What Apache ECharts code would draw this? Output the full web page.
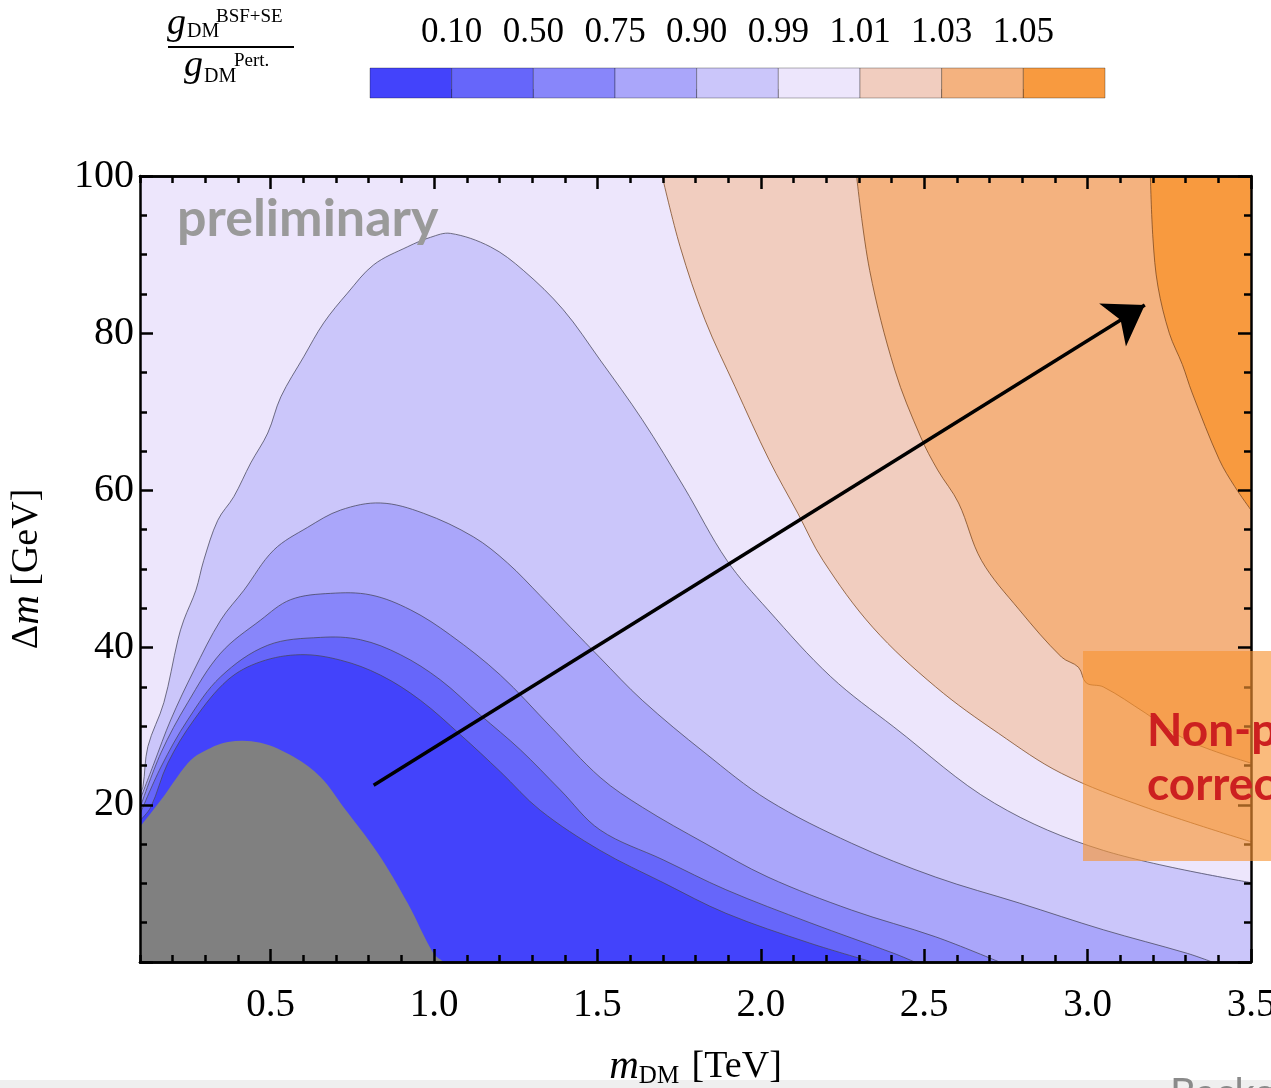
<!DOCTYPE html>
<html lang="en">
<head>
  <meta charset="utf-8">
</head>
<body style="margin: 0; background: #fff">
  <div id="container" style="width: 1271px; height: 1088px"></div>

  <script type="text/javascript" src="https://fastly.jsdelivr.net/npm/echarts@6/dist/echarts.min.js"></script>

  <script type="text/javascript">
    // colour bar: level boundaries and the nine band colours
    var levelLabels = ['0.10', '0.50', '0.75', '0.90', '0.99', '1.01', '1.03', '1.05'];
    var levelColors = ['#4343fb', '#6666fa', '#8886fa', '#aaa6fa', '#cbc6fa', '#ede6fc', '#f1cdbf', '#f4b27f', '#f89a3f'];

    var xMajor = [0.5, 1.0, 1.5, 2.0, 2.5, 3.0, 3.5];

    // contour lines, [m_DM (TeV), delta m (GeV)]
    var c099 = [[0.1, 21.5], [0.109, 22.3], [0.124, 27.4], [0.173, 33.0], [0.216, 41.0], [0.234, 43.5],
      [0.271, 47.3], [0.295, 51.1], [0.338, 56.2], [0.387, 59.2], [0.439, 63.5], [0.491, 67.3],
      [0.531, 71.9], [0.601, 77.0], [0.662, 81.3], [0.735, 85.1], [0.815, 88.7], [0.919, 91.0],
      [0.989, 92.2], [1.05, 92.7], [1.172, 91.0], [1.273, 88.0], [1.395, 83.0], [1.508, 76.6],
      [1.637, 69.0], [1.765, 60.4], [1.896, 51.1], [2.022, 44.8], [2.214, 36.3], [2.407, 29.9],
      [2.715, 20.2], [3.048, 14.2], [3.5, 10.1]];
    var c090 = [[0.1, 20.6], [0.143, 25.3], [0.194, 30.8], [0.265, 37.1], [0.347, 43.5], [0.418, 47.3],
      [0.509, 52.4], [0.613, 55.3], [0.714, 57.5], [0.836, 58.4], [0.967, 57.1], [1.12, 54.1],
      [1.224, 50.8], [1.325, 46.6], [1.417, 42.6], [1.508, 38.7], [1.637, 33.3], [1.829, 26.6],
      [2.022, 20.6], [2.278, 15.1], [2.535, 10.8], [2.791, 7.5], [3.048, 4.1], [3.305, 1.1], [3.381, 0]];
    var c075 = [[0.1, 19.6], [0.164, 26.6], [0.246, 33.0], [0.347, 39.3], [0.469, 43.5], [0.561, 46.1],
      [0.683, 46.9], [0.806, 46.7], [0.928, 44.8], [1.05, 41.6], [1.203, 36.5], [1.355, 30.0],
      [1.508, 23.5], [1.637, 19.7], [1.829, 15.1], [2.022, 10.8], [2.278, 6.6], [2.535, 3.2],
      [2.73, 0]];
    var c050 = [[0.1, 18.8], [0.164, 24.8], [0.246, 30.8], [0.347, 36.3], [0.491, 40.3], [0.653, 41.3],
      [0.775, 41.0], [0.897, 39.1], [1.019, 35.9], [1.142, 31.4], [1.264, 27.0], [1.386, 21.9],
      [1.508, 16.8], [1.701, 13.0], [1.893, 9.2], [2.15, 5.0], [2.407, 1.1], [2.471, 0]];
    var c010 = [[0.1, 18.0], [0.133, 19.7], [0.185, 25.3], [0.265, 30.8], [0.369, 35.9], [0.469, 38.2],
      [0.592, 39.1], [0.714, 38.4], [0.836, 36.5], [0.958, 33.3], [1.081, 28.9], [1.203, 24.2],
      [1.325, 19.3], [1.508, 14.2], [1.701, 10.1], [1.893, 6.2], [2.15, 2.4], [2.342, 0]];
    var excluded = [[0.1, 17.2], [0.164, 20.6], [0.246, 25.3], [0.286, 26.6], [0.369, 28.0], [0.469, 27.9],
      [0.57, 26.1], [0.653, 23.5], [0.723, 19.7], [0.827, 13.9], [0.919, 7.5], [0.998, 1.1], [1.029, 0]];
    var c101 = [[1.698, 100], [1.753, 91.0], [1.829, 81.7], [1.921, 73.2], [2.025, 63.9], [2.113, 57.1],
      [2.19, 51.1], [2.342, 42.6], [2.535, 35.0], [2.727, 29.1], [2.92, 24.0], [3.176, 19.7], [3.5, 15.3]];
    var c103 = [[2.293, 100], [2.333, 88.0], [2.41, 75.3], [2.489, 66.8], [2.541, 62.6], [2.605, 58.4],
      [2.675, 51.1], [2.791, 44.8], [2.92, 38.8], [2.972, 37.5], [2.996, 35.5], [3.048, 35.0],
      [3.176, 31.7], [3.305, 28.2], [3.5, 25.3]];
    var c105 = [[3.192, 100], [3.2, 92], [3.215, 86], [3.25, 80], [3.29, 76], [3.32, 72.4],
      [3.403, 63.9], [3.45, 60.5], [3.5, 57.5]];

    var arrowFrom = [0.815, 22.5];
    var arrowTo = [3.175, 83.6];

    var blueLine = 'rgba(70, 70, 90, 0.75)';
    var orangeLine = 'rgba(120, 70, 30, 0.75)';

    // each band: its contour line, closed through points well outside the plot
    var regions = [
      { curve: c099, fill: levelColors[4], line: blueLine, close: [[5, -40], [-1, -40]] },
      { curve: c090, fill: levelColors[3], line: blueLine, close: [[-1, -40]] },
      { curve: c075, fill: levelColors[2], line: blueLine, close: [[-1, -40]] },
      { curve: c050, fill: levelColors[1], line: blueLine, close: [[-1, -40]] },
      { curve: c010, fill: levelColors[0], line: blueLine, close: [[-1, -40]] },
      { curve: excluded, fill: '#808080', line: null, close: [[-1, -40]] },
      { curve: c101, fill: levelColors[6], line: orangeLine, close: [[5, 140]] },
      { curve: c103, fill: levelColors[7], line: orangeLine, close: [[5, 140]] },
      { curve: c105, fill: levelColors[8], line: orangeLine, close: [[5, 140]] }
    ];

    // continue the line a little past both ends so the smoothed fill leaves the frame cleanly
    function ringOf(r) {
      var c = r.curve;
      var n = c.length;
      var pre = [c[0][0] - 3 * (c[1][0] - c[0][0]), c[0][1] - 3 * (c[1][1] - c[0][1])];
      var post = [c[n - 1][0] + 3 * (c[n - 1][0] - c[n - 2][0]), c[n - 1][1] + 3 * (c[n - 1][1] - c[n - 2][1])];
      return [pre].concat(c, [post], r.close);
    }

    var dom = document.getElementById('container');
    var myChart = echarts.init(dom, null, { renderer: 'canvas' });

    var serif = 'Liberation Serif';
    var tickStyle = { color: '#000', width: 2.5 };
    var barIdx = levelLabels.map(function (s, i) { return i + 1; });

    function plotX(pos, major, extra) {
      var ax = {
        gridIndex: 0,
        type: 'value',
        position: pos,
        min: 0.1,
        max: 3.5,
        z: 10,
        axisLine: { show: true, onZero: false, lineStyle: { color: '#000', width: 2.5 } },
        axisTick: { inside: true, length: major ? 13 : 7, lineStyle: tickStyle },
        axisLabel: { show: false },
        splitLine: { show: false }
      };
      if (major) {
        ax.axisTick.customValues = xMajor;
      } else {
        ax.interval = 0.1;
      }
      return Object.assign(ax, extra || {});
    }

    function plotY(pos, extra) {
      return Object.assign({
        gridIndex: 0,
        type: 'value',
        position: pos,
        min: 0,
        max: 100,
        interval: 20,
        z: 10,
        axisLine: { show: true, onZero: false, lineStyle: { color: '#000', width: 2.5 } },
        axisTick: { inside: true, length: 13, lineStyle: tickStyle },
        minorTick: { show: true, splitNumber: 4, length: 7, lineStyle: tickStyle },
        axisLabel: { show: false },
        splitLine: { show: false }
      }, extra || {});
    }

    var option = {
      animation: false,
      grid: [
        { left: 140, right: 20, top: 176, bottom: 126, show: true, backgroundColor: levelColors[5], borderWidth: 0, outerBoundsMode: 'none' },
        { left: 370, width: 735, top: 68, height: 30, show: false, outerBoundsMode: 'none' }
      ],
      xAxis: [
        plotX('bottom', false),
        plotX('bottom', true, {
          axisLabel: {
            show: true, customValues: xMajor, margin: 24,
            fontFamily: serif, fontSize: 39, color: '#000',
            formatter: function (v) { return v.toFixed(1); }
          },
          name: '{i|m}{s|DM} [TeV]',
          nameLocation: 'middle',
          nameGap: 84,
          nameTextStyle: {
            fontFamily: serif, fontSize: 38, color: '#000',
            rich: {
              i: { fontFamily: serif, fontStyle: 'italic', fontSize: 41, color: '#000' },
              s: { fontFamily: serif, fontSize: 25, color: '#000', padding: [18, 3, 0, 0] }
            }
          }
        }),
        plotX('top', false),
        plotX('top', true),
        {
          gridIndex: 1, type: 'value', position: 'top', min: 0, max: 9,
          axisLine: { show: false },
          axisTick: { show: true, customValues: barIdx, length: 9, lineStyle: { color: '#555', width: 1 } },
          axisLabel: {
            customValues: barIdx, margin: 18, fontFamily: serif, fontSize: 35, color: '#000',
            formatter: function (v) { return levelLabels[v - 1] || ''; }
          },
          splitLine: { show: false }
        }
      ],
      yAxis: [
        plotY('left', {
          axisLabel: {
            show: true, margin: 6, fontFamily: serif, fontSize: 40, color: '#000', padding: [14, 0, 0, 0],
            formatter: function (v) { return v === 0 ? '' : String(v); }
          },
          name: '\u0394{i|m} [GeV]',
          nameLocation: 'middle',
          nameGap: 92,
          nameRotate: 90,
          nameTextStyle: {
            fontFamily: serif, fontSize: 38, color: '#000',
            rich: { i: { fontFamily: serif, fontStyle: 'italic', fontSize: 41, color: '#000' } }
          }
        }),
        plotY('right'),
        { gridIndex: 1, type: 'value', min: 0, max: 1, show: false }
      ],
      graphic: {
        elements: [
          // ratio label
          { type: 'text', x: 167, y: 24, z: 20, style: { text: 'g', font: 'italic 38px "Liberation Serif"', fill: '#000', verticalAlign: 'middle' } },
          { type: 'text', x: 187, y: 32, z: 20, style: { text: 'DM', font: '20px "Liberation Serif"', fill: '#000', verticalAlign: 'middle' } },
          { type: 'text', x: 216, y: 17, z: 20, style: { text: 'BSF+SE', font: '19px "Liberation Serif"', fill: '#000', verticalAlign: 'middle' } },
          { type: 'line', z: 20, shape: { x1: 168, y1: 47, x2: 294, y2: 47 }, style: { stroke: '#000', lineWidth: 2 } },
          { type: 'text', x: 184, y: 66, z: 20, style: { text: 'g', font: 'italic 38px "Liberation Serif"', fill: '#000', verticalAlign: 'middle' } },
          { type: 'text', x: 204, y: 77, z: 20, style: { text: 'DM', font: '20px "Liberation Serif"', fill: '#000', verticalAlign: 'middle' } },
          { type: 'text', x: 234, y: 61, z: 20, style: { text: 'Pert.', font: '19px "Liberation Serif"', fill: '#000', verticalAlign: 'middle' } },
          // watermark
          { type: 'text', x: 177, y: 219, z: 20, style: { text: 'preliminary', font: 'bold 52px Lato', fill: '#9a9a9a', verticalAlign: 'middle' } },
          // overlay box
          { type: 'rect', z: 30, shape: { x: 1083, y: 651, width: 200, height: 210 }, style: { fill: 'rgba(247, 148, 52, 0.64)' } },
          { type: 'text', x: 1147, y: 731, z: 31, style: { text: 'Non-perturbative', font: 'bold 46px Lato', fill: '#cc2020', verticalAlign: 'middle' } },
          { type: 'text', x: 1147, y: 785, z: 31, style: { text: 'corrections', font: 'bold 46px Lato', fill: '#cc2020', verticalAlign: 'middle' } },
          // slide footer
          { type: 'rect', z: 1, shape: { x: 0, y: 1080, width: 1271, height: 8 }, style: { fill: '#efefef' } },
          { type: 'text', x: 1170, y: 1074, z: 31, style: { text: 'Background', font: '40px Lato', fill: '#8a8a8a', verticalAlign: 'top' } }
        ]
      },
      series: [
        {
          type: 'custom',
          coordinateSystem: 'cartesian2d',
          xAxisIndex: 0,
          yAxisIndex: 0,
          clip: true,
          silent: true,
          z: 2,
          data: regions.map(function () { return [1, 50]; }),
          renderItem: function (params, api) {
            var r = regions[params.dataIndex];
            var ring = ringOf(r).map(function (p) { return api.coord(p); });
            var pts = r.curve.map(function (p) { return api.coord(p); });
            var kids = [{ type: 'polygon', shape: { points: ring, smooth: 0.35 }, style: { fill: r.fill } }];
            if (r.line) {
              kids.push({ type: 'polyline', shape: { points: pts, smooth: 0.35 }, style: { stroke: r.line, lineWidth: 1, fill: null } });
            }
            return { type: 'group', children: kids };
          }
        },
        {
          type: 'lines',
          coordinateSystem: 'cartesian2d',
          xAxisIndex: 0,
          yAxisIndex: 0,
          silent: true,
          z: 5,
          symbol: ['none', 'arrow'],
          symbolSize: 38,
          lineStyle: { color: '#000', width: 3.5, opacity: 1 },
          data: [{ coords: [arrowFrom, arrowTo] }]
        },
        {
          type: 'custom',
          coordinateSystem: 'cartesian2d',
          xAxisIndex: 4,
          yAxisIndex: 2,
          silent: true,
          data: levelColors.map(function (c, i) { return [i, 0]; }),
          renderItem: function (params, api) {
            var i = params.dataIndex;
            var a = api.coord([i, 1]);
            var b = api.coord([i + 1, 0]);
            return {
              type: 'rect',
              shape: { x: a[0], y: a[1], width: b[0] - a[0], height: b[1] - a[1] },
              style: { fill: levelColors[i], stroke: 'rgba(0, 0, 0, 0.3)', lineWidth: 1 }
            };
          }
        }
      ]
    };

    myChart.setOption(option);
    window.addEventListener('resize', myChart.resize);
  </script>
</body>
</html>
